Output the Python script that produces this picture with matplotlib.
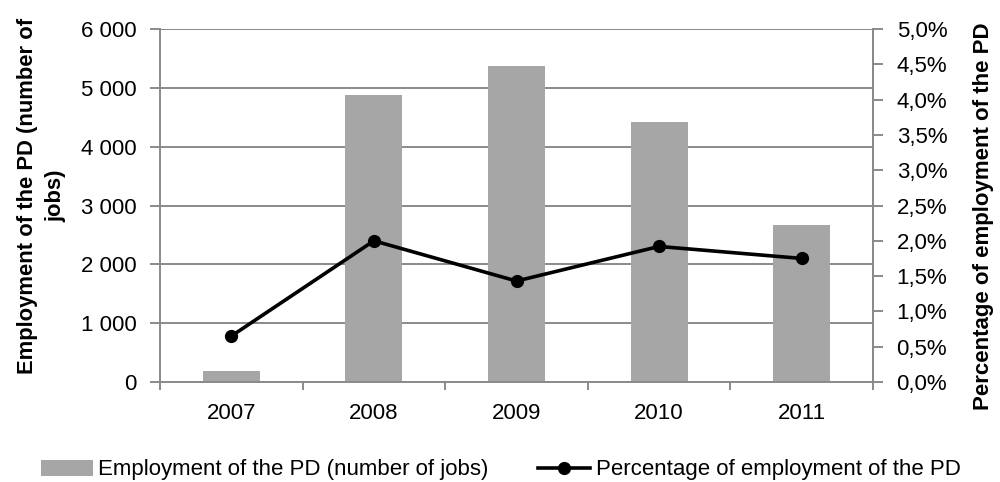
import matplotlib
matplotlib.use("Agg")
import matplotlib.pyplot as plt
from matplotlib.ticker import FuncFormatter, FixedLocator
from matplotlib.lines import Line2D
from matplotlib.patches import Patch

years = ["2007", "2008", "2009", "2010", "2011"]
jobs = [180, 4870, 5375, 4420, 2670]
pct = [0.65, 2.00, 1.43, 1.92, 1.75]

bar_label = "Employment of the PD (number of jobs)"
line_label = "Percentage of employment of the PD"
left_ylabel = "Employment of the PD (number of\njobs)"
right_ylabel = "Percentage of employment of the PD"

FONT = ["Liberation Sans", "DejaVu Sans"]
plt.rcParams["font.family"] = FONT

grid_c = "#8a8a8a"
bar_c = "#a6a6a6"
TS = 16

fig = plt.figure(figsize=(10, 4.82), dpi=100)
ax = fig.add_axes([0.160, 0.2075, 0.713, 0.7323])
x = list(range(len(years)))
ax.bar(x, jobs, width=0.4, color=bar_c, zorder=2)
ax.set_xlim(-0.5, len(years) - 0.5)
ax.set_ylim(0, 6000)
ax.set_yticks(range(0, 6001, 1000))
ax.yaxis.set_major_formatter(FuncFormatter(lambda v, p: f"{int(v):,}".replace(",", " ")))
ax.grid(axis="y", color=grid_c, linewidth=1.4, zorder=0)
ax.set_axisbelow(True)
ax.set_xticks(x)
ax.set_xticklabels(years)
ax.xaxis.set_minor_locator(FixedLocator([i - 0.5 for i in range(len(years) + 1)]))
ax.tick_params(axis="x", which="major", length=0, pad=15, labelsize=TS)
ax.tick_params(axis="x", which="minor", length=5.5, color=grid_c, width=1.4)
ax.tick_params(axis="y", length=7, color=grid_c, width=1.4, labelsize=TS, pad=10)
ax.spines["top"].set_visible(False)
for s in ["left", "bottom", "right"]:
    ax.spines[s].set_color(grid_c)
    ax.spines[s].set_linewidth(1.4)
ax.set_ylabel(left_ylabel, fontsize=15.8, fontweight="bold", linespacing=1.45)
ax.yaxis.set_label_coords((66 - 160) / 713.0, 0.527)

ax2 = ax.twinx()
ax2.plot(x, pct, color="black", linewidth=2.6, marker="o", markersize=8.5, zorder=3)
ax2.set_ylim(0, 5)
ax2.set_yticks([i * 0.5 for i in range(11)])
ax2.yaxis.set_major_formatter(FuncFormatter(lambda v, p: f"{v:.1f}%".replace(".", ",")))
ax2.tick_params(axis="y", length=7, color=grid_c, width=1.4, labelsize=TS, pad=10)
for s in ["top", "left", "bottom"]:
    ax2.spines[s].set_visible(False)
ax2.spines["right"].set_color(grid_c)
ax2.spines["right"].set_linewidth(1.4)
ax2.set_ylabel(right_ylabel, fontsize=16, fontweight="bold", rotation=90)
ax2.yaxis.set_label_coords(1.0 + (973 - 873) / 713.0, 0.47)

handles = [Patch(facecolor=bar_c, edgecolor="none"),
           Line2D([0], [0], color="black", linewidth=2.6, marker="o", markersize=8.5)]
fig.legend(handles, [bar_label, line_label], loc="center left",
           bbox_to_anchor=(0.0407, 1 - 470 / 482), ncol=2, frameon=False, fontsize=TS,
           handlelength=2.35, handletextpad=0.25, columnspacing=2.2,
           borderpad=0, borderaxespad=0)

fig.savefig("out.png", dpi=100)
